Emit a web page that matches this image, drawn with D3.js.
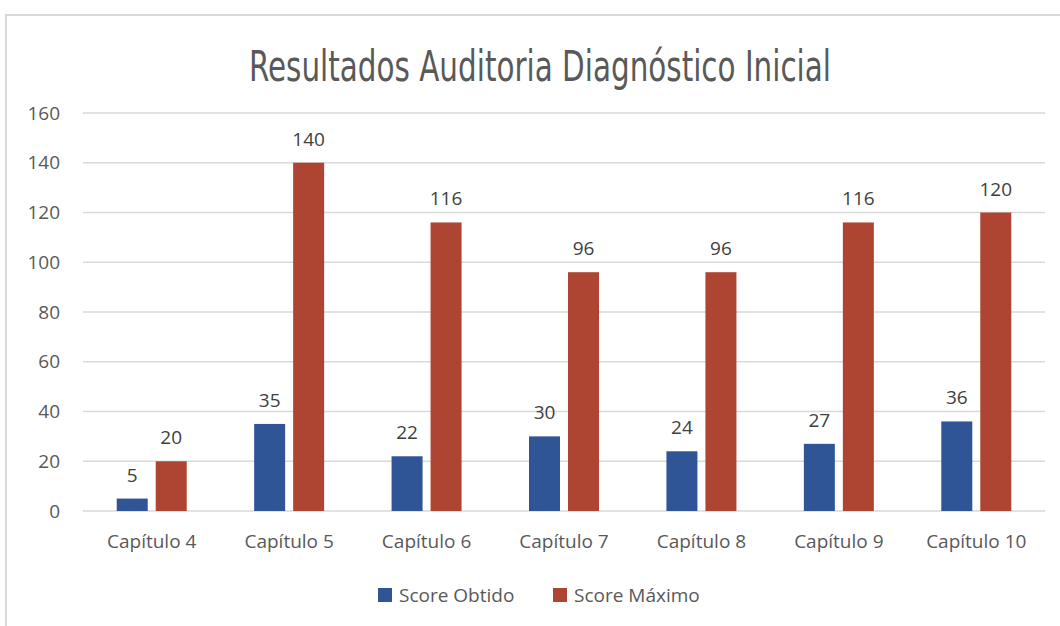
<!DOCTYPE html>
<html lang="pt">
<head>
  <meta charset="UTF-8">
  <title>Resultados Auditoria Diagnóstico Inicial</title>
  <script src="https://d3js.org/d3.v7.min.js"></script>
  <style>
    html, body { margin: 0; padding: 0; background: #fff; }
    svg { display: block; font-family: "Open Sans", Lato, sans-serif; }
    .grid line { stroke: #d9d9d9; stroke-width: 1.5; }
    .tick-label { fill: #595959; font-size: 19px; }
    .bar-label { fill: #404040; font-size: 19px; }
  </style>
</head>
<body>
  <svg id="chart" width="1060" height="626"></svg>
  <script>
    // dados
    const categories = ["Capítulo 4", "Capítulo 5", "Capítulo 6", "Capítulo 7", "Capítulo 8", "Capítulo 9", "Capítulo 10"];
    const seriesNames = ["Score Obtido", "Score Máximo"];
    const scoreObtido = [5, 35, 22, 30, 24, 27, 36];
    const scoreMaximo = [20, 140, 116, 96, 96, 116, 120];
    const yTicks = [0, 20, 40, 60, 80, 100, 120, 140, 160];
    const colors = ["#2f5597", "#ae4532"];

    const svg = d3.select("#chart");

    // moldura do gráfico
    svg.append("path")
      .attr("d", "M6,626 V15 H1060")
      .attr("fill", "none")
      .attr("stroke", "#d9d9d9")
      .attr("stroke-width", 2);

    // título
    svg.append("text")
      .attr("x", 540)
      .attr("y", 81)
      .attr("text-anchor", "middle")
      .attr("fill", "#595959")
      .style("font-family", "'DejaVu Sans Condensed', 'DejaVu Sans', sans-serif")
      .style("font-size", "43px")
      .attr("textLength", 582)
      .attr("lengthAdjust", "spacingAndGlyphs")
      .text("Resultados Auditoria Diagnóstico Inicial");

    const plot = { left: 83, right: 1045, top: 113, bottom: 511 };

    const x0 = d3.scaleBand()
      .domain(categories)
      .range([plot.left, plot.right]);

    const x1 = d3.scaleBand()
      .domain(seriesNames)
      .range([-35, 35])
      .paddingInner(0.205);

    const y = d3.scaleLinear()
      .domain([0, 160])
      .range([plot.bottom, plot.top]);

    // grade
    const grid = svg.append("g").attr("class", "grid");
    grid.selectAll("line")
      .data(yTicks)
      .enter()
      .append("line")
      .attr("x1", plot.left)
      .attr("x2", plot.right)
      .attr("y1", d => y(d))
      .attr("y2", d => y(d));

    // rótulos do eixo y
    svg.append("g").selectAll("text")
      .data(yTicks)
      .enter()
      .append("text")
      .attr("class", "tick-label")
      .attr("x", 60)
      .attr("y", d => y(d))
      .attr("dy", "0.35em")
      .attr("text-anchor", "end")
      .text(d => d);

    // rótulos do eixo x
    svg.append("g").selectAll("text")
      .data(categories)
      .enter()
      .append("text")
      .attr("class", "tick-label")
      .attr("x", d => x0(d) + x0.bandwidth() / 2)
      .attr("y", 548)
      .attr("text-anchor", "middle")
      .text(d => d);

    // barras
    const rows = categories.map((c, i) => ({
      cat: c,
      values: [
        { s: seriesNames[0], v: scoreObtido[i] },
        { s: seriesNames[1], v: scoreMaximo[i] }
      ]
    }));

    const groups = svg.append("g").selectAll("g")
      .data(rows)
      .enter()
      .append("g")
      .attr("transform", d => `translate(${x0(d.cat) + x0.bandwidth() / 2},0)`);

    groups.selectAll("rect")
      .data(d => d.values)
      .enter()
      .append("rect")
      .attr("x", d => x1(d.s))
      .attr("width", x1.bandwidth())
      .attr("y", d => y(d.v))
      .attr("height", d => y(0) - y(d.v))
      .attr("fill", (d, i) => colors[i]);

    groups.selectAll("text")
      .data(d => d.values)
      .enter()
      .append("text")
      .attr("class", "bar-label")
      .attr("x", d => x1(d.s) + x1.bandwidth() / 2)
      .attr("y", d => y(d.v) - 17)
      .attr("text-anchor", "middle")
      .text(d => d.v);

    // legenda
    const legendX = [378, 553];
    const legend = svg.append("g").selectAll("g")
      .data(seriesNames)
      .enter()
      .append("g")
      .attr("transform", (d, i) => `translate(${legendX[i]},588)`);

    legend.append("rect")
      .attr("width", 14)
      .attr("height", 14)
      .attr("fill", (d, i) => colors[i]);

    legend.append("text")
      .attr("class", "tick-label")
      .attr("x", 21)
      .attr("y", 14)
      .text(d => d);
  </script>
</body>
</html>
